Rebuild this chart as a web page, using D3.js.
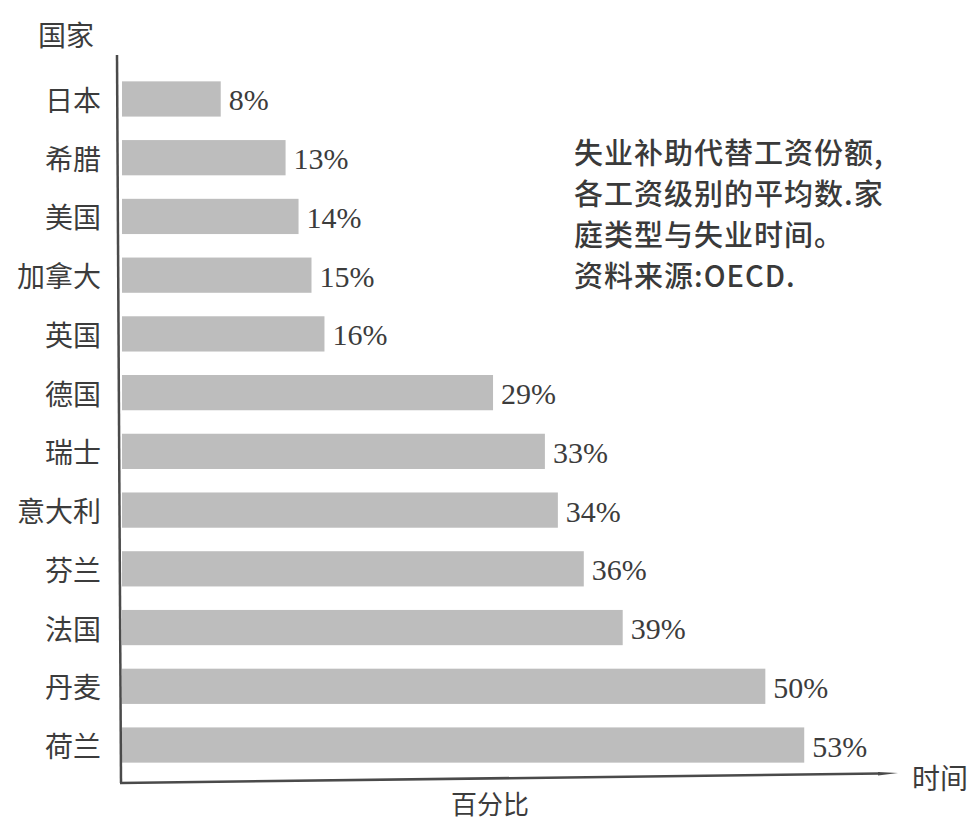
<!DOCTYPE html>
<html><head><meta charset="utf-8">
<script src="https://cdn.jsdelivr.net/npm/d3@7"></script>
<style>body{margin:0;background:#fff}</style>
</head><body><svg id="c" width="975" height="824"></svg>
<script>
const countries = ["日本","希腊","美国","加拿大","英国","德国","瑞士","意大利","芬兰","法国","丹麦","荷兰"];
const shares = [8,13,14,15,16,29,33,34,36,39,50,53];
const noteLines = ["失业补助代替工资份额,","各工资级别的平均数.家","庭类型与失业时间。","资料来源:OECD."];
const yTitle = "国家", xTitle = "百分比", xEndLabel = "时间";

const svg = d3.select("#c");
const W = 975, H = 824;
svg.append("rect").attr("width", W).attr("height", H).attr("fill", "#fff");

const x = d3.scaleLinear().domain([0, 60]).range([117, 895]);
const y = d3.scaleBand().domain(countries).range([69.6, 774.4]).paddingInner(0.4).paddingOuter(0.2);

const ink = "#3c3c3c";
const cjk = "'Noto Sans CJK SC','Noto Sans',sans-serif";
const serif = "'Liberation Serif','DejaVu Serif',serif";

const data = countries.map((c, i) => ({c, v: shares[i]}));
const barStart = 122;

svg.append("g").selectAll("rect").data(data).join("rect")
  .attr("x", barStart)
  .attr("y", d => y(d.c))
  .attr("width", d => x(d.v) - barStart)
  .attr("height", y.bandwidth())
  .attr("fill", "#bdbdbd");

svg.append("g").selectAll("text").data(data).join("text")
  .attr("x", d => x(d.v) + 8)
  .attr("y", d => y(d.c) + y.bandwidth() / 2 + 1)
  .attr("dominant-baseline", "central")
  .attr("font-family", serif).attr("font-size", 30).attr("fill", ink)
  .text(d => d.v + "%");

// category labels
svg.append("g").selectAll("text").data(countries).join("text")
  .attr("x", 101)
  .attr("y", d => y(d) + y.bandwidth() / 2)
  .attr("text-anchor", "end").attr("dominant-baseline", "central")
  .attr("font-family", cjk).attr("font-size", 28).attr("fill", ink)
  .text(d => d);

// axes
svg.append("line").attr("x1", 117).attr("y1", 55).attr("x2", 121).attr("y2", 783)
  .attr("stroke", "#4a4a4a").attr("stroke-width", 2.5);
svg.append("line").attr("x1", 120).attr("y1", 783).attr("x2", 880).attr("y2", 773.5)
  .attr("stroke", "#4a4a4a").attr("stroke-width", 2.5);
svg.append("path").attr("d", "M878,772 L898,773 L878,775.5 Z").attr("fill", "#4a4a4a");

// titles
svg.append("text").attr("x", 38).attr("y", 34).attr("dominant-baseline", "central")
  .attr("font-family", cjk).attr("font-size", 28).attr("fill", ink).text(yTitle);
svg.append("text").attr("x", 490).attr("y", 802).attr("text-anchor", "middle").attr("dominant-baseline", "central")
  .attr("font-family", cjk).attr("font-size", 26).attr("fill", ink).text(xTitle);
svg.append("text").attr("x", 912).attr("y", 777).attr("dominant-baseline", "central")
  .attr("font-family", cjk).attr("font-size", 28).attr("fill", ink).text(xEndLabel);

// note
svg.append("g").selectAll("text").data(noteLines).join("text")
  .attr("x", 574)
  .attr("y", (d, i) => 151 + i * 41)
  .attr("dominant-baseline", "central")
  .attr("font-family", cjk).attr("font-weight", 500).attr("font-size", 29).attr("letter-spacing", 1)
  .attr("fill", "#3a3a3a")
  .text(d => d);
</script></body></html>
